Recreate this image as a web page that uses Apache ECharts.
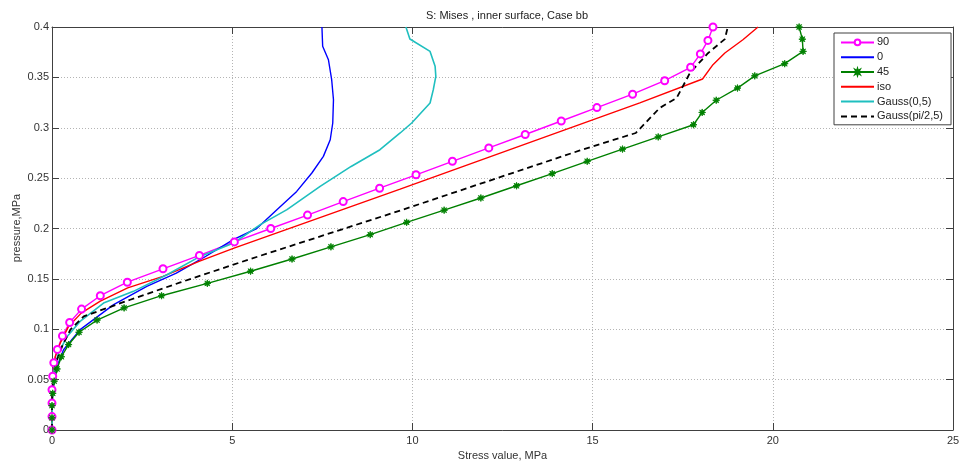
<!DOCTYPE html>
<html>
<head>
<meta charset="utf-8">
<script src="https://cdn.jsdelivr.net/npm/echarts@6/dist/echarts.min.js"></script>
<style>
html,body{margin:0;padding:0;background:#fff;}
#chart{width:963px;height:462px;}
</style>
</head>
<body>
<div id="chart"></div>
<script>
// ---- data (stress in MPa, pressure in MPa) ----
const titleText = 'S: Mises , inner surface, Case bb';
const xName = 'Stress value, MPa';
const yName = 'pressure,MPa';
const seriesNames = ['90', '0', '45', 'iso', 'Gauss(0,5)', 'Gauss(pi/2,5)'];

const p90 = [0,0.0133,0.0267,0.04,0.0533,0.0667,0.08,0.0933,0.1067,0.12,0.1333,0.1467,0.16,0.1733,0.1867,0.2,0.2133,0.2267,0.24,0.2533,0.2667,0.28,0.2933,0.3067,0.32,0.3333,0.3467,0.36,0.3733,0.3867,0.4];
const s90 = [0,0,0,0,0.02,0.05,0.15,0.29,0.49,0.82,1.34,2.09,3.08,4.09,5.06,6.07,7.09,8.08,9.09,10.10,11.11,12.12,13.13,14.13,15.12,16.11,17.00,17.72,17.99,18.20,18.34];

const p0 = [0,0.02,0.035,0.0466,0.0631,0.0797,0.0996,0.1244,0.1426,0.1558,0.169,0.189,0.2,0.2187,0.2368,0.2551,0.2716,0.2881,0.3047,0.3278,0.3477,0.3675,0.3808,0.4];
const s0 = [0,0,0.01,0.05,0.14,0.32,0.78,1.71,2.63,3.45,4.11,5.03,5.68,6.24,6.79,7.21,7.53,7.72,7.79,7.81,7.76,7.67,7.51,7.49];

const p45 = [0,0.0121,0.0242,0.0364,0.0485,0.0606,0.0727,0.0848,0.097,0.1091,0.1212,0.1333,0.1455,0.1576,0.1697,0.1818,0.1939,0.2061,0.2182,0.2303,0.2424,0.2545,0.2667,0.2788,0.2909,0.303,0.3152,0.3273,0.3394,0.3515,0.3636,0.3758,0.3879,0.4];
const s45 = [0,0,0,0.02,0.06,0.14,0.26,0.46,0.75,1.25,2.00,3.04,4.31,5.51,6.66,7.74,8.83,9.84,10.88,11.90,12.89,13.88,14.85,15.83,16.82,17.80,18.04,18.43,19.02,19.50,20.33,20.84,20.82,20.73];

const pIso = [0,0.02,0.04,0.055,0.073,0.0863,0.1028,0.116,0.128,0.141,0.1525,0.1674,0.1806,0.2391,0.3246,0.3484,0.3626,0.3742,0.3874,0.4];
const sIso = [0,0,0.01,0.04,0.09,0.23,0.46,0.81,1.34,2.10,3.08,4.08,5.05,9.66,16.31,18.05,18.34,18.67,19.17,19.59];

const pG0 = [0,0.03,0.06,0.0764,0.0929,0.1078,0.126,0.1376,0.1541,0.1723,0.1856,0.2038,0.2187,0.2418,0.2616,0.2782,0.2948,0.3047,0.3246,0.3378,0.351,0.361,0.3758,0.3881,0.4];
const sG0 = [0,0.01,0.06,0.18,0.42,0.78,1.43,2.26,3.19,4.11,5.04,5.78,6.52,7.44,8.30,9.10,9.66,9.98,10.49,10.58,10.65,10.63,10.49,9.93,9.82];

const pGpi = [0,0.02,0.04,0.053,0.0698,0.083,0.0996,0.1128,0.1293,0.1465,0.1697,0.2178,0.2775,0.2948,0.3196,0.3295,0.3543,0.374,0.388,0.4];
const sGpi = [0,0,0.01,0.05,0.14,0.28,0.51,0.88,2.17,3.56,5.50,9.66,14.65,16.20,16.86,17.33,17.70,18.20,18.67,18.75];

const xMin = 0, xMax = 25, xStep = 5;
const yMin = 0, yMax = 0.4, yStep = 0.05;

// ---- build ----
function pairs(s, p) { return s.map((v, i) => [v, p[i]]); }

// 8-point star path for the MATLAB '*' marker
function starPath() {
  let d = '';
  for (let i = 0; i < 16; i++) {
    const a = Math.PI * i / 8 - Math.PI / 2;
    const r = (i % 2 === 0) ? 10 : 4.5;
    const x = (10 + r * Math.cos(a)).toFixed(2);
    const y = (10 + r * Math.sin(a)).toFixed(2);
    d += (i === 0 ? 'M' : 'L') + x + ',' + y;
  }
  return 'path://' + d + 'Z';
}

const font = 'Liberation Sans, Arial, sans-serif';
const chart = echarts.init(document.getElementById('chart'), null, {renderer: 'canvas'});

const gridLine = {show: true, lineStyle: {color: '#b4b4b4', width: 1, type: [1, 2]}};
const axisLine = {show: true, onZero: false, lineStyle: {color: '#404040', width: 1}};
const tick = {show: true, inside: true, length: 7, lineStyle: {color: '#404040'}};

const hasMarker = [true, false, true, false, false, false];
const legendData = seriesNames.map((n, i) => hasMarker[i] ? {name: n} : {name: n, itemStyle: {opacity: 0}});

const option = {
  animation: false,
  backgroundColor: '#fff',
  title: {
    text: titleText, left: 502, top: 5, textAlign: 'center',
    textStyle: {fontFamily: font, fontSize: 11, fontWeight: 'normal', color: '#222'}
  },
  graphic: [{
    type: 'text', x: 17, y: 228, rotation: Math.PI / 2,
    style: {text: yName, fontFamily: font, fontSize: 11, fill: '#333', align: 'center', verticalAlign: 'middle'}
  }],
  grid: {left: 52, right: 10, top: 27, bottom: 32, containLabel: false, outerBoundsMode: 'none'},
  legend: {
    orient: 'vertical', left: 834, top: 33,
    padding: [3, 8, 2, 6],
    itemWidth: 33, itemHeight: 7, itemGap: 2,
    backgroundColor: '#fff', borderColor: '#404040', borderWidth: 1,
    textStyle: {fontFamily: font, fontSize: 11, color: '#222', lineHeight: 12.8, padding: [0, 0, 0, -2]},
    data: legendData
  },
  xAxis: [
    {type: 'value', min: xMin, max: xMax, interval: xStep, position: 'bottom',
     name: xName, nameLocation: 'middle', nameGap: 19,
     nameTextStyle: {fontFamily: font, fontSize: 11, color: '#333'},
     axisLine: axisLine, axisTick: tick, splitLine: gridLine,
     axisLabel: {fontFamily: font, fontSize: 11, color: '#333', margin: 5}},
    {type: 'value', min: xMin, max: xMax, interval: xStep, position: 'top',
     axisLine: axisLine, axisTick: tick, splitLine: {show: false}, axisLabel: {show: false}}
  ],
  yAxis: [
    {type: 'value', min: yMin, max: yMax, interval: yStep, position: 'left',
     axisLine: axisLine, axisTick: tick, splitLine: gridLine,
     axisLabel: {fontFamily: font, fontSize: 11, color: '#333', margin: 3}},
    {type: 'value', min: yMin, max: yMax, interval: yStep, position: 'right',
     axisLine: axisLine, axisTick: tick, splitLine: {show: false}, axisLabel: {show: false}}
  ],
  series: [
    {name: seriesNames[0], type: 'line', data: pairs(s90, p90),
     symbol: 'emptyCircle', symbolSize: 7, showSymbol: true,
     itemStyle: {color: '#ff00ff', borderWidth: 1.2},
     lineStyle: {color: '#ff00ff', width: 1.4}, z: 3},
    {name: seriesNames[1], type: 'line', data: pairs(s0, p0),
     symbol: 'none', itemStyle: {color: '#0000ff'},
     lineStyle: {color: '#0000ff', width: 1.4}, z: 3},
    {name: seriesNames[2], type: 'line', data: pairs(s45, p45),
     symbol: starPath(), symbolSize: 7, showSymbol: true,
     itemStyle: {color: '#008000', borderColor: '#008000', borderWidth: 0.8},
     lineStyle: {color: '#008000', width: 1.4}, z: 3},
    {name: seriesNames[3], type: 'line', data: pairs(sIso, pIso),
     symbol: 'none', itemStyle: {color: '#ff0000'},
     lineStyle: {color: '#ff0000', width: 1.4}, z: 3},
    {name: seriesNames[4], type: 'line', data: pairs(sG0, pG0),
     symbol: 'none', itemStyle: {color: '#1fbfbf'},
     lineStyle: {color: '#1fbfbf', width: 1.6}, z: 3},
    {name: seriesNames[5], type: 'line', data: pairs(sGpi, pGpi),
     symbol: 'none', itemStyle: {color: '#000000'},
     lineStyle: {color: '#000000', width: 1.8, type: [6, 4]}, z: 3}
  ]
};
chart.setOption(option);
</script>
</body>
</html>
